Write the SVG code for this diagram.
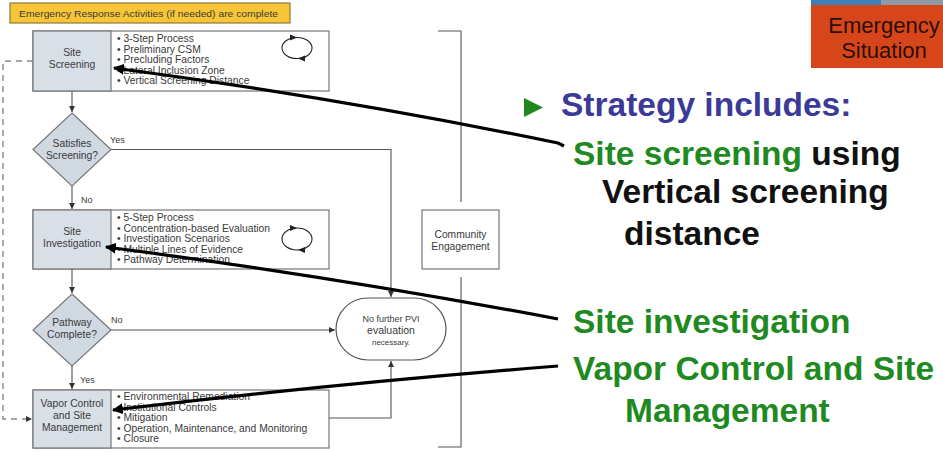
<svg xmlns="http://www.w3.org/2000/svg" width="943" height="452" viewBox="0 0 943 452">
<defs>
<style>
.t{font-family:"Liberation Sans",Arial,sans-serif;fill:#3a3a3a}
.s{font-size:10.3px}
.c{text-anchor:middle}
.bx{fill:#fff;stroke:#777;stroke-width:1.2}
.gr{fill:#d8dfe7;stroke:#777;stroke-width:1.2}
.ln{fill:none;stroke:#555;stroke-width:1.1}
.big{font-family:"Liberation Sans",Arial,sans-serif;font-size:33.5px;font-weight:bold}
.ann{fill:none;stroke:#000;stroke-width:3.2}
</style>
<marker id="a" viewBox="0 0 10 10" refX="10" refY="5" markerWidth="6" markerHeight="6" orient="auto" markerUnits="userSpaceOnUse"><path d="M0,0L10,5L0,10z" fill="#333"/></marker>
<marker id="b" viewBox="0 0 10 10" refX="9" refY="5" markerWidth="11" markerHeight="11" orient="auto" markerUnits="userSpaceOnUse"><path d="M0,0L10,5L0,10z" fill="#000"/></marker>
</defs>
<rect width="943" height="452" fill="#fff"/>

<g id="emergency-response">
<rect x="10" y="3" width="280" height="20" fill="#f7c535" stroke="#8a7a3a" stroke-width="1.2"/>
<text class="t" x="19" y="16.5" font-size="9.5" textLength="259" lengthAdjust="spacingAndGlyphs">Emergency Response Activities (if needed) are complete</text>
</g>

<g id="site-screening">
<rect class="bx" x="33" y="31" width="296" height="60"/>
<rect class="gr" x="33" y="31" width="78" height="60"/>
<text class="t s c" x="72" y="56">Site</text>
<text class="t s c" x="72" y="68">Screening</text>
<text class="t s" x="117" y="42">• 3-Step Process</text>
<text class="t s" x="117" y="52.5">• Preliminary CSM</text>
<text class="t s" x="117" y="63">• Precluding Factors</text>
<text class="t s" x="117" y="73.5">• Lateral Inclusion Zone</text>
<text class="t s" x="117" y="84">• Vertical Screening Distance</text>
<ellipse cx="297" cy="48" rx="15" ry="10.5" fill="none" stroke="#222" stroke-width="1.1"/>
<path d="M290,34.5L297,37.5L290,40.5z" fill="#222"/>
<path d="M305,55.5L298,58.5L305,61.5z" fill="#222"/>
</g>

<g id="satisfies-screening">
<path d="M72,113L111,149.5L72,186L33,149.5z" fill="#d0d8e1" stroke="#777" stroke-width="1.2"/>
<text class="t s c" x="72" y="147">Satisfies</text>
<text class="t s c" x="72" y="159">Screening?</text>
</g>

<g id="site-investigation">
<rect class="bx" x="33" y="210" width="296" height="59"/>
<rect class="gr" x="33" y="210" width="78" height="59"/>
<text class="t s c" x="72" y="235">Site</text>
<text class="t s c" x="72" y="247">Investigation</text>
<text class="t s" x="117" y="221">• 5-Step Process</text>
<text class="t s" x="117" y="231.5">• Concentration-based Evaluation</text>
<text class="t s" x="117" y="242">• Investigation Scenarios</text>
<text class="t s" x="117" y="252.5">• Multiple Lines of Evidence</text>
<text class="t s" x="117" y="263">• Pathway Determination</text>
<ellipse cx="297" cy="239" rx="15" ry="11" fill="none" stroke="#222" stroke-width="1.1"/>
<path d="M290,225L297,228L290,231z" fill="#222"/>
<path d="M305,247L298,250L305,253z" fill="#222"/>
</g>

<g id="pathway-complete">
<path d="M72,294L111,330L72,366L33,330z" fill="#d0d8e1" stroke="#777" stroke-width="1.2"/>
<text class="t s c" x="72" y="326">Pathway</text>
<text class="t s c" x="72" y="338">Complete?</text>
</g>

<g id="vapor-control">
<rect class="bx" x="33" y="390" width="296" height="58"/>
<rect class="gr" x="33" y="390" width="78" height="58"/>
<text class="t s c" x="72" y="407">Vapor Control</text>
<text class="t s c" x="72" y="419">and Site</text>
<text class="t s c" x="72" y="431">Management</text>
<text class="t s" x="117" y="400">• Environmental Remediation</text>
<text class="t s" x="117" y="410.5">• Institutional Controls</text>
<text class="t s" x="117" y="421">• Mitigation</text>
<text class="t s" x="117" y="431.5">• Operation, Maintenance, and Monitoring</text>
<text class="t s" x="117" y="442">• Closure</text>
</g>

<g id="no-further-pvi">
<rect x="336" y="298" width="110" height="62" rx="32" ry="31" fill="#fff" stroke="#555" stroke-width="1.2"/>
<text class="t c" x="391" y="322" font-size="9">No further PVI</text>
<text class="t c" x="391" y="334" font-size="10.5">evaluation</text>
<text class="t c" x="391" y="345" font-size="8">necessary.</text>
</g>

<g id="community-engagement">
<rect class="bx" x="422" y="210" width="77" height="59"/>
<text class="t s c" x="460.5" y="238">Community</text>
<text class="t s c" x="460.5" y="250">Engagement</text>
</g>

<g id="emergency-situation">
<rect x="811" y="0" width="132" height="5" fill="#8e9aa6"/>
<rect x="811" y="0" width="70" height="5" fill="#3d7fb8"/>
<rect x="811" y="5" width="132" height="63" fill="#d6461a"/>
<text x="884" y="33" font-family="Liberation Sans,Arial,sans-serif" font-size="22" fill="#2e0f06" text-anchor="middle">Emergency</text>
<text x="884" y="58" font-family="Liberation Sans,Arial,sans-serif" font-size="22" fill="#2e0f06" text-anchor="middle">Situation</text>
</g>

<g id="strategy-text">
<path d="M524,98L543,107.5L524,117z" fill="#1e8a1e"/>
<text class="big" x="561" y="116" fill="#3b3a98">Strategy includes:</text>
<text class="big" x="573" y="165"><tspan fill="#1f8a1f">Site screening</tspan><tspan fill="#111"> using</tspan></text>
<text class="big" x="602" y="203" fill="#111">Vertical screening</text>
<text class="big" x="624" y="245" fill="#111">distance</text>
<text class="big" x="573" y="333" fill="#1f8a1f">Site investigation</text>
<text class="big" x="573" y="380" fill="#1f8a1f">Vapor Control and Site</text>
<text class="big" x="625" y="422" fill="#1f8a1f">Management</text>
</g>

<g id="connectors">
<path class="ln" d="M72,91V112" marker-end="url(#a)"/>
<path class="ln" d="M72,186V209" marker-end="url(#a)"/>
<path class="ln" d="M72,269V293" marker-end="url(#a)"/>
<path class="ln" d="M72,366V389" marker-end="url(#a)"/>
<path class="ln" d="M111,149.5H391V297" marker-end="url(#a)"/>
<path class="ln" d="M111,330H335" marker-end="url(#a)"/>
<path class="ln" d="M329,418H391V361" marker-end="url(#a)"/>
<path d="M33,61H3V419H32" fill="none" stroke="#888" stroke-width="1.4" stroke-dasharray="6,5" marker-end="url(#a)"/>
<path class="ln" d="M438,31H461V202M461,277V447H438" stroke="#666" stroke-width="1.3"/>
<text class="t" x="110" y="143" font-size="9">Yes</text>
<text class="t" x="81" y="203" font-size="9">No</text>
<text class="t" x="111" y="323" font-size="9">No</text>
<text class="t" x="80" y="383" font-size="9">Yes</text>
<path class="ann" d="M564,146L558,143Q340,98 114,68" marker-end="url(#b)"/>
<path class="ann" d="M558,319Q330,276 106,247" marker-end="url(#b)"/>
<path class="ann" d="M558,366Q330,384 113,410" marker-end="url(#b)"/>
</g>
</svg>
